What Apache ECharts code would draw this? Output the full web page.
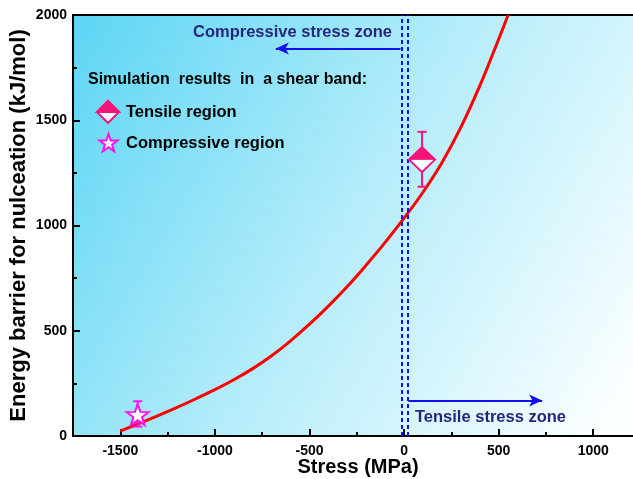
<!DOCTYPE html>
<html>
<head>
<meta charset="utf-8">
<script src="https://cdn.jsdelivr.net/npm/echarts@6/dist/echarts.min.js"></script>
<style>html,body{margin:0;padding:0;background:#fff}#c{width:633px;height:479px}</style>
</head>
<body>
<div id="c"></div>
<script>
// Fitted curve (stress MPa, energy kJ/mol)
var curveStress = [-1500,-1400,-1300,-1200,-1100,-1000,-900,-800,-700,-600,-500,-400,-300,-200,-100,0,100,200,300,400,500,550];
var curveEnergy = [23,60,97,136,177,220,267,320,381,452,531,617,710,812,920,1035,1158,1298,1466,1663,1885,2000];
// Simulation results
var tensilePoint = [95, 1313];
var tensileErr = [95, 1184, 1445];
var compPoint = [-1408, 102];
var compErr = [-1408, 45, 165];
// Zone boundaries and arrows
var boundaryLines = [-10, 20];
var compArrow = [[-19, 1841], [-678, 1841]];
var tensArrow = [[23, 169], [730, 169]];
// Tick labels
var xMajor = [-1500, -1000, -500, 0, 500, 1000];
var xMinor = [-1250, -750, -250, 250, 750];

var FONT = "'Liberation Sans', Arial, sans-serif";
var PINK = '#f5157a';
var MAG = '#ff10f0';
var BLUE = '#1010f0';
var NAVY = '#26267a';

var curveData = curveStress.map(function (s, i) { return [s, curveEnergy[i]]; });

var chart = echarts.init(document.getElementById('c'));

function errRender(color) {
  return function (params, api) {
    var x = api.value(0), lo = api.value(1), hi = api.value(2);
    var p1 = api.coord([x, lo]), p2 = api.coord([x, hi]);
    var w = 4.5;
    var st = { stroke: color, lineWidth: 2 };
    return {
      type: 'group',
      children: [
        { type: 'line', shape: { x1: p1[0], y1: p1[1], x2: p2[0], y2: p2[1] }, style: st },
        { type: 'line', shape: { x1: p1[0] - w, y1: p1[1], x2: p1[0] + w, y2: p1[1] }, style: st },
        { type: 'line', shape: { x1: p2[0] - w, y1: p2[1], x2: p2[0] + w, y2: p2[1] }, style: st }
      ]
    };
  };
}

var starPath = 'path://M10,0 L12.35,6.76 L19.51,6.91 L13.8,11.24 L15.88,18.09 L10,14 L4.12,18.09 L6.2,11.24 L0.49,6.91 L7.65,6.76 Z';
var starPts = [[10,0],[12.35,6.76],[19.51,6.91],[13.8,11.24],[15.88,18.09],[10,14],[4.12,18.09],[6.2,11.24],[0.49,6.91],[7.65,6.76]];
var legendStar = starPts.map(function (p) { return [99 + p[0] * 0.95, 134 + p[1] * 0.95]; });
var plain = function (v) { return String(v); };

function label(x, y, text, color, size) {
  return { type: 'text', x: x, y: y, style: { text: text, fill: color, font: 'bold ' + size + 'px ' + FONT, verticalAlign: 'middle', align: 'left' } };
}

chart.setOption({
  animation: false,
  grid: {
    left: 73, top: 15, right: -10, bottom: 43,
    outerBoundsMode: 'none',
    containLabel: false,
    show: true,
    borderColor: '#000', borderWidth: 2,
    backgroundColor: {
      type: 'linear', x: 0, y: 0, x2: 1, y2: 0.8,
      colorStops: [
        { offset: 0, color: '#5cd5f4' },
        { offset: 0.5, color: '#b2ecfa' },
        { offset: 1, color: '#fafeff' }
      ]
    }
  },
  xAxis: [{
    type: 'value', min: -1750, max: 1263,
    name: 'Stress (MPa)', nameLocation: 'middle', nameGap: 21, nameMoveOverlap: false,
    nameTextStyle: { fontFamily: FONT, fontWeight: 'bold', fontSize: 20, color: '#000' },
    axisLine: { show: true, onZero: false, lineStyle: { color: '#000', width: 2 } },
    axisTick: { show: true, inside: true, length: 7, lineStyle: { color: '#000', width: 2 }, customValues: xMajor },
    axisLabel: { fontFamily: FONT, fontWeight: 'bold', fontSize: 14, color: '#000', margin: 8, customValues: xMajor, formatter: plain },
    splitLine: { show: false }
  }, {
    type: 'value', min: -1750, max: 1263, position: 'bottom',
    axisLine: { show: false, onZero: false },
    axisTick: { show: true, inside: true, length: 4, lineStyle: { color: '#000', width: 2 }, customValues: xMinor },
    axisLabel: { show: false },
    splitLine: { show: false }
  }],
  yAxis: {
    type: 'value', min: 0, max: 2000, interval: 500,
    name: 'Energy barrier for nulceation (kJ/mol)', nameLocation: 'middle', nameGap: 43, nameMoveOverlap: false,
    nameTextStyle: { fontFamily: FONT, fontWeight: 'bold', fontSize: 22, color: '#000' },
    axisLine: { show: true, onZero: false, lineStyle: { color: '#000', width: 2 } },
    axisTick: { show: true, inside: true, length: 7, lineStyle: { color: '#000', width: 2 } },
    minorTick: { show: true, splitNumber: 2, length: 4, lineStyle: { color: '#000', width: 2 } },
    axisLabel: { fontFamily: FONT, fontWeight: 'bold', fontSize: 14, color: '#000', margin: 6, formatter: plain },
    splitLine: { show: false },
    minorSplitLine: { show: false }
  },
  series: [
    {
      type: 'line', data: [], silent: true,
      markLine: {
        silent: true, symbol: ['none', 'none'], label: { show: false },
        lineStyle: { color: BLUE, width: 2, type: [4, 3] },
        data: boundaryLines.map(function (v) { return { xAxis: v }; })
      }
    },
    {
      type: 'line', data: [], silent: true,
      markLine: {
        silent: true, symbol: ['none', 'arrow'], symbolSize: [9, 13], label: { show: false },
        lineStyle: { color: BLUE, width: 2, type: 'solid' },
        data: [
          [{ coord: compArrow[0] }, { coord: compArrow[1] }],
          [{ coord: tensArrow[0] }, { coord: tensArrow[1] }]
        ]
      }
    },
    {
      type: 'line', data: curveData, smooth: 0.4, showSymbol: false,
      lineStyle: { color: '#ff0000', width: 3 }, z: 3
    },
    { type: 'custom', data: [tensileErr], renderItem: errRender(PINK), z: 4 },
    { type: 'custom', data: [compErr], renderItem: errRender(MAG), z: 4 },
    {
      type: 'scatter', data: [tensilePoint], symbol: 'diamond', symbolSize: [26, 25],
      itemStyle: { color: '#fff', borderColor: PINK, borderWidth: 2, opacity: 1 }, z: 5
    },
    {
      type: 'scatter', data: [tensilePoint], symbol: 'triangle', symbolSize: [26, 12.5], symbolOffset: [0, -6.25],
      itemStyle: { color: PINK, borderColor: PINK, borderWidth: 1, opacity: 1 }, z: 6
    },
    {
      type: 'scatter', data: [compPoint], symbol: starPath, symbolSize: [22, 21],
      itemStyle: { color: '#fff', borderColor: MAG, borderWidth: 2, opacity: 1 }, z: 5
    }
  ],
  graphic: [
    label(193, 32, 'Compressive stress zone', NAVY, 16.5),
    label(415, 417, 'Tensile stress zone', NAVY, 16.5),
    label(88, 80, 'Simulation  results  in  a shear band:', '#000', 16),
    label(126, 112, 'Tensile region', '#000', 16.5),
    label(126, 143, 'Compressive region', '#000', 16.5),
    { type: 'polygon', shape: { points: [[97, 112], [108, 101], [119, 112], [108, 123]] }, style: { fill: '#fff', stroke: PINK, lineWidth: 2 } },
    { type: 'polygon', shape: { points: [[97, 112], [108, 101], [119, 112]] }, style: { fill: PINK, stroke: PINK, lineWidth: 2 } },
    { type: 'polygon', shape: { points: legendStar }, style: { fill: '#fff', stroke: MAG, lineWidth: 2 } }
  ]
});
</script>
</body>
</html>
